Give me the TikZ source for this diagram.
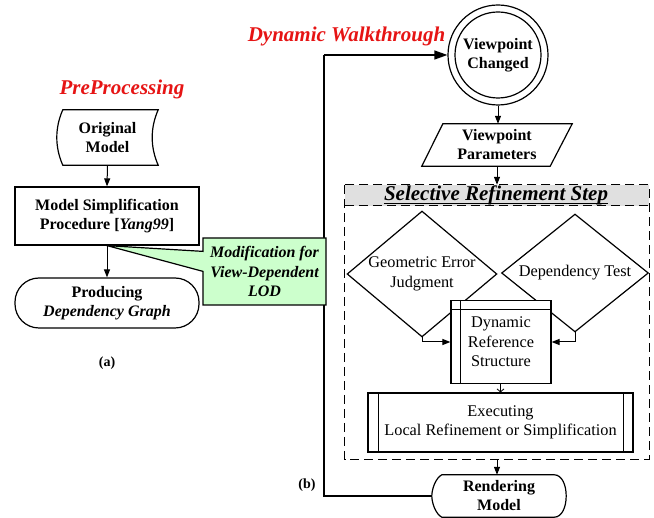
\documentclass[tikz,border=0pt]{standalone}
\usepackage{fontspec}
\setmainfont{Liberation Serif}
\usetikzlibrary{arrows.meta,shapes.callouts,calc}
\definecolor{titlered}{RGB}{230,20,20}
\definecolor{calloutgreen}{RGB}{204,255,204}
\definecolor{headgray}{RGB}{224,224,224}
\tikzset{
  boldbox/.style={rectangle, inner sep=0pt, align=center, font=\fontsize{16}{19}\selectfont\bfseries},
  plainbox/.style={rectangle, inner sep=0pt, align=center, font=\fontsize{16.3}{19.5}\selectfont},
  outline/.style={draw=black, line width=1.2pt},
  arr/.style={line width=1pt, -{Triangle[length=8pt,width=6pt]}},
  smallarr/.style={line width=0.8pt, -{Straight Barb[length=3pt,width=7pt]}},
  bigarr/.style={line width=1.3pt, -{Triangle[length=13pt,width=9pt]}},
  heading/.style={font=\fontsize{21}{25}\selectfont\bfseries\itshape, text=titlered},
  dashedframe/.style={draw=black, line width=1.3pt, dash pattern=on 9pt off 5pt},
  sublabel/.style={font=\fontsize{14}{17}\selectfont\bfseries},
}
\begin{document}
\begin{tikzpicture}[x=1pt,y=-1pt]
\useasboundingbox (0,0) rectangle (654,518);

% ---------- headings
\node[heading, anchor=base] (pre) at (122,95) {PreProcessing};
\node[heading, anchor=base] (dyn) at (346.5,42) {Dynamic Walkthrough};

% ---------- left part (a)
\node[boldbox, minimum width=101, minimum height=55] (om) at (107.5,137.5) {Original\\Model};
\draw[outline] ($(om.north west)+(6,0)$) -- (om.north east)
  .. controls ($(om.north east)+(-8,18)$) and ($(om.south east)+(-8,-18)$) .. (om.south east)
  -- ($(om.south west)+(6,0)$)
  .. controls ($(om.south west)+(-2,-18)$) and ($(om.north west)+(-2,18)$) .. ($(om.north west)+(6,0)$) -- cycle;

\node[boldbox, outline, minimum width=184, minimum height=58] (ms) at (107,216) {Model Simplification\\Procedure [\textit{Yang99}]};
\node[boldbox, outline, rounded corners=24pt, minimum width=184, minimum height=50] (pd) at (107,303) {Producing\\\textit{Dependency Graph}};
\node[sublabel] (la) at (107,363) {(a)};

\draw[arr] (om.south) -- (ms.north);
\draw[arr] (ms.south) -- (pd.north);

% ---------- loop line
\coordinate (lc) at (324,0);

% ---------- right part (b)
\node[boldbox, circle, outline, minimum size=100] (vc) at (498,55) {Viewpoint\\Changed};
\draw[outline] (vc.center) circle (43);

\node[boldbox, minimum width=150, minimum height=42] (vp) at (497,145) {Viewpoint\\Parameters};
\draw[outline] (vp.south west) -- ($(vp.north west)+(21,0)$) -- (vp.north east) -- ($(vp.south east)+(-22,0)$) -- cycle;

\node[minimum width=304, minimum height=274, inner sep=0pt] (srs) at (497,322) {};
\fill[headgray] (srs.north west) rectangle ($(srs.north east)+(0,21)$);
\draw[dashedframe] (srs.north west) rectangle (srs.south east);
\draw[dashedframe] ($(srs.north west)+(0,21)$) -- ($(srs.north east)+(0,21)$);
\node[anchor=base, inner sep=0pt, font=\fontsize{21}{25}\selectfont\bfseries\itshape] (srst) at (496,201) {Selective Refinement Step};
\draw[line width=1.1pt] ($(srst.base west)+(0,2.6)$) -- ($(srst.base east)+(0,2.6)$);

\node[plainbox, minimum width=149, minimum height=125] (gej) at (422,274) {Geometric Error\\Judgment};
\draw[outline] (gej.west) -- (gej.north) -- (gej.east) -- (gej.south) -- cycle;
\node[plainbox, minimum width=146, minimum height=117] (dt) at (575,273) {Dependency Test};
\draw[outline] (dt.west) -- (dt.north) -- (dt.east) -- (dt.south) -- cycle;

\node[plainbox, outline, fill=white, minimum width=100, minimum height=83] (drs) at (501,342) {Dynamic\\Reference\\Structure};
\draw[outline] ($(drs.north west)+(10,0)$) -- ($(drs.south west)+(10,0)$);
\draw[outline] ($(drs.north west)+(0,10)$) -- ($(drs.north east)+(0,10)$);

\node[plainbox, outline, minimum width=265, minimum height=59] (ex) at (500.5,422.5) {Executing\\Local Refinement or Simplification};
\draw[outline] ($(ex.north west)+(11,0)$) -- ($(ex.south west)+(11,0)$);
\draw[outline] ($(ex.north east)+(-10,0)$) -- ($(ex.south east)+(-10,0)$);

\node[boldbox, minimum width=134, minimum height=42] (rm) at (499,496) {Rendering\\Model};
\draw[outline] ($(rm.north west)+(10,0)$) -- ($(rm.north east)+(-12,0)$)
  .. controls ($(rm.north east)+(4,0)$) and ($(rm.south east)+(4,0)$) .. ($(rm.south east)+(-12,0)$)
  -- ($(rm.south west)+(10,0)$)
  .. controls ($(rm.south west)+(4,-3)$) and ($(rm.west)+(0,7)$) .. (rm.west)
  .. controls ($(rm.west)+(0,-7)$) and ($(rm.north west)+(4,3)$) .. ($(rm.north west)+(10,0)$) -- cycle;

\node[sublabel] (lb) at (307,485) {(b)};

% ---------- connectors
\draw[line width=1.3pt] (rm.west) -- (rm.west -| lc) -- (lc |- vc.west);
\draw[bigarr] (lc |- vc.west) -- (vc.west);
\draw[arr] (vc.south) -- (vc.south |- vp.north);
\draw[arr] (vp.south) -- (srs.north);
\draw[arr] (gej.south) |- (drs.west);
\draw[arr] (dt.south) |- (drs.east);
\draw[smallarr] (drs.south -| ex.north) -- (ex.north);
\draw[arr] (srs.south) -- (srs.south |- rm.north);

% ---------- callout (drawn over the loop line)
\node[rectangle callout, outline, fill=calloutgreen, inner sep=0pt, minimum width=123, minimum height=67,
  callout absolute pointer={(ms.south)}, callout pointer width=20pt, align=center,
  font=\fontsize{16}{19.5}\selectfont\bfseries\itshape] (mod) at (264.5,271.5) {Modification for\\View-Dependent\\LOD};
\end{tikzpicture}
\end{document}
